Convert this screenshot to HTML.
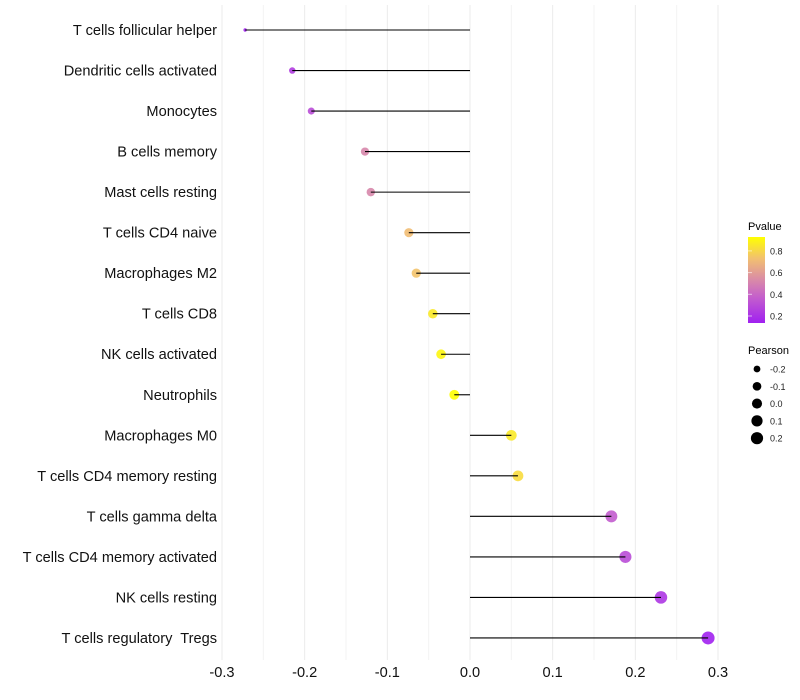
<!DOCTYPE html>
<html><head><meta charset="utf-8">
<style>
body{margin:0;background:#fff;}
svg{display:block;font-family:"Liberation Sans",sans-serif;}
</style></head><body>
<svg id="chart" width="800" height="700">
<defs>
<linearGradient id="pgrad" x1="0" y1="1" x2="0" y2="0">
<stop offset="0" stop-color="#a020f0"/>
<stop offset="0.3" stop-color="#c45fcc"/>
<stop offset="0.5" stop-color="#d98aa8"/>
<stop offset="0.75" stop-color="#f2c070"/>
<stop offset="1" stop-color="#ffff00"/>
</linearGradient>
</defs>
<g id="grid"></g><g id="marks"></g><g id="labels"></g>
<g>
<text x="748" y="230" font-size="11">Pvalue</text>
<rect x="748" y="237" width="17" height="86" fill="url(#pgrad)"/>
<g id="cticks"></g>
</g>
<g>
<text x="748" y="354" font-size="11">Pearson</text>
<g id="sizeleg"></g>
</g>
</svg>
<script>
const categories=["T cells follicular helper","Dendritic cells activated","Monocytes","B cells memory","Mast cells resting","T cells CD4 naive","Macrophages M2","T cells CD8","NK cells activated","Neutrophils","Macrophages M0","T cells CD4 memory resting","T cells gamma delta","T cells CD4 memory activated","NK cells resting","T cells regulatory  Tregs"];
const pearson=[-0.272,-0.215,-0.192,-0.127,-0.120,-0.074,-0.065,-0.045,-0.035,-0.019,0.050,0.058,0.171,0.188,0.231,0.288];
const pvalue=[0.14,0.24,0.30,0.52,0.52,0.72,0.74,0.86,0.90,0.96,0.86,0.82,0.36,0.30,0.22,0.14];
const xTicks=[-0.3,-0.2,-0.1,0.0,0.1,0.2,0.3];
const xTickLabels=["-0.3","-0.2","-0.1","0.0","0.1","0.2","0.3"];
const pTicks=[0.2,0.4,0.6,0.8];
const sizeLegend=[-0.2,-0.1,0.0,0.1,0.2];
const ns="http://www.w3.org/2000/svg";
function X(v){return 470+v*826.7;}
function Y(i){return 30+i*40.53;}
function R(v){const t=Math.max(0,v+0.272);return 1.7+4.8*Math.sqrt(t/0.56);}
function PY(p){return 316-(p-0.2)/0.2*21.7;}
function lerp(a,b,t){return a.map((x,i)=>Math.round(x+(b[i]-x)*t));}
const stops=[[0,[160,32,240]],[0.3,[196,95,204]],[0.5,[217,138,168]],[0.75,[242,192,112]],[1,[255,255,0]]];
function C(p){let t=(p-0.135)/(0.929-0.135);t=Math.max(0,Math.min(1,t));
for(let i=0;i<stops.length-1;i++){if(t<=stops[i+1][0]){const f=(t-stops[i][0])/(stops[i+1][0]-stops[i][0]);const c=lerp(stops[i][1],stops[i+1][1],f);return `rgb(${c})`;}}return "rgb(255,255,0)";}
function mk(tag,attrs,parent){const e=document.createElementNS(ns,tag);for(const k in attrs)e.setAttribute(k,attrs[k]);parent.appendChild(e);return e;}
const grid=document.getElementById('grid'),marks=document.getElementById('marks'),labels=document.getElementById('labels');
for(let v=-0.3;v<=0.301;v+=0.05){const g=mk('line',{x1:X(v),x2:X(v),y1:5,y2:660,stroke:Math.abs(Math.round(v*100)%10)===5?'#f3f3f3':'#ebebeb','stroke-width':1},grid);

}
xTicks.forEach((v,i)=>{const t=mk('text',{x:X(v),y:677,'font-size':14.6,'text-anchor':'middle',fill:'#111'},labels);t.textContent=xTickLabels[i];

});
categories.forEach((c,i)=>{
const t=mk('text',{x:217,y:Y(i)+5,'font-size':14.6,'text-anchor':'end',fill:'#111'},labels);t.textContent=c;
t.style.whiteSpace='pre';


const p=mk('circle',{cx:X(pearson[i]),cy:Y(i),r:R(pearson[i]),fill:C(pvalue[i]),'fill-opacity':0.9},marks);


const l=mk('line',{x1:X(0),x2:X(pearson[i]),y1:Y(i),y2:Y(i),stroke:'#000','stroke-width':1.1},marks);


});
const ct=document.getElementById('cticks');
pTicks.forEach(p=>{const y=PY(p);
const a=mk('line',{x1:748,x2:752,y1:y,y2:y,stroke:'#fff','stroke-opacity':0.6},ct);


const t=mk('text',{x:770,y:y+3.5,'font-size':9,fill:'#222'},ct);t.textContent=p.toFixed(1);

});
const sl=document.getElementById('sizeleg');
sizeLegend.forEach((v,i)=>{const y=369+i*17.3;
const c=mk('circle',{cx:757,cy:y,r:R(v),fill:'#000'},sl);


const t=mk('text',{x:770,y:y+3.5,'font-size':9,fill:'#222'},sl);t.textContent=v.toFixed(1);

});
</script>
</body></html>
